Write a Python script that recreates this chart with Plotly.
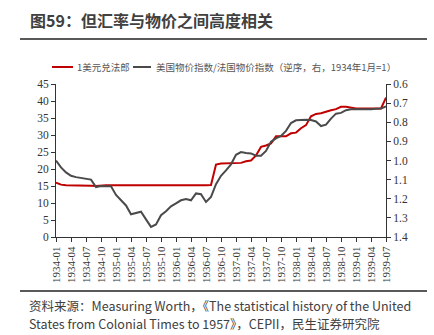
import plotly.graph_objects as go

months = [f"{1934 + i // 12}-{i % 12 + 1:02d}" for i in range(67)]

fx_usd_frf = [16.0, 15.4, 15.2, 15.2, 15.2, 15.3, 15.2, 15.1, 15.0, 15.2,
              15.2, 15.2, 15.2, 15.2, 15.1, 15.1, 15.2, 15.2, 15.2, 15.2,
              15.2, 15.2, 15.2, 15.1, 15.0, 15.1, 15.2, 15.2, 15.2, 15.2,
              15.2, 15.3, 21.3, 21.6, 21.7, 21.7, 21.7, 21.8, 22.3, 22.5,
              24.0, 26.5, 26.9, 27.5, 29.6, 29.6, 29.6, 30.5, 30.7, 32.0,
              32.9, 35.5, 36.2, 36.4, 36.9, 37.3, 37.6, 38.3, 38.3, 38.0,
              37.8, 37.8, 37.8, 37.8, 37.8, 37.8, 41.0]

price_ratio = [1.000, 1.036, 1.062, 1.080, 1.087, 1.091, 1.094, 1.100, 1.139, 1.133,
               1.135, 1.135, 1.180, 1.208, 1.235, 1.281, 1.276, 1.268, 1.308, 1.347,
               1.334, 1.286, 1.265, 1.240, 1.224, 1.208, 1.201, 1.208, 1.172, 1.176,
               1.217, 1.190, 1.124, 1.080, 1.052, 1.020, 0.970, 0.956, 0.961, 0.963,
               0.975, 0.975, 0.950, 0.902, 0.884, 0.872, 0.845, 0.804, 0.790, 0.787,
               0.787, 0.788, 0.796, 0.820, 0.813, 0.781, 0.755, 0.751, 0.737, 0.732,
               0.732, 0.733, 0.735, 0.732, 0.730, 0.728, 0.717]

tick_labels = months[::3]

W, H = 434, 335
L, R, T, B = 56, 386, 84, 237

def px(x):
    return (x - L) / (R - L)

def py(y):
    return (B - y) / (B - T)

RED = "#C00000"
GRAY = "#4a4a4a"
SERIF = "Liberation Serif"
CJK = "Noto Sans CJK SC"

fig = go.Figure()
fig.add_trace(go.Scatter(x=months, y=fx_usd_frf, mode="lines", name="1美元兑法郎",
                         line=dict(color=RED, width=2), yaxis="y"))
fig.add_trace(go.Scatter(x=months, y=price_ratio, mode="lines",
                         name="美国物价指数/法国物价指数（逆序，右，1934年1月=1）",
                         line=dict(color=GRAY, width=2), yaxis="y2"))

axis_font = dict(family=SERIF, size=11.5, color="#333333")

fig.update_layout(
    width=W, height=H,
    margin=dict(l=L, r=W - R, t=T, b=H - B),
    paper_bgcolor="white", plot_bgcolor="white",
    showlegend=False,
    xaxis=dict(type="category", range=[0, 66], tickmode="array",
               tickvals=tick_labels, ticktext=tick_labels, tickangle=-90,
               ticks="outside", ticklen=4, tickcolor="#333", showline=True,
               linecolor="#333", linewidth=1, showgrid=False, zeroline=False,
               tickfont=dict(family=SERIF, size=11, color="#333333")),
    yaxis=dict(range=[0, 45], dtick=5, ticks="outside", ticklen=4,
               tickcolor="#333", showline=True, linecolor="#333", linewidth=1,
               showgrid=False, zeroline=False, tickfont=axis_font),
    yaxis2=dict(range=[1.4, 0.6], dtick=0.1, tickformat=".1f", overlaying="y",
                side="right", ticks="outside", ticklen=4, tickcolor="#333",
                showline=True, linecolor="#333", linewidth=1, showgrid=False,
                zeroline=False, tickfont=axis_font),
)

shapes = [
    dict(type="line", xref="paper", yref="paper", x0=px(20), x1=px(427),
         y0=py(39), y1=py(39), line=dict(color="#595959", width=2)),
    dict(type="line", xref="paper", yref="paper", x0=px(20), x1=px(427),
         y0=py(291), y1=py(291), line=dict(color="#595959", width=2)),
    dict(type="line", xref="paper", yref="paper", x0=px(52), x1=px(73),
         y0=py(67), y1=py(67), line=dict(color=RED, width=2)),
    dict(type="line", xref="paper", yref="paper", x0=px(133), x1=px(151),
         y0=py(67), y1=py(67), line=dict(color=GRAY, width=2)),
]
fig.update_layout(shapes=shapes)

ann = [
    dict(text="<b>图59：但汇率与物价之间高度相关</b>", x=px(28), y=py(20),
         font=dict(family=CJK, size=16, color="#404040")),
    dict(text="1美元兑法郎", x=px(75), y=py(67),
         font=dict(family=CJK, size=9.5, color="#555555")),
    dict(text="美国物价指数/法国物价指数（逆序，右，1934年1月=1）", x=px(154), y=py(67),
         font=dict(family=CJK, size=9.5, color="#555555")),
    dict(text="资料来源：Measuring Worth，《The statistical history of the United",
         x=px(27), y=py(305), font=dict(family=CJK, size=12.5, color="#404040")),
    dict(text="States from Colonial Times to 1957》，CEPII，民生证券研究院",
         x=px(27), y=py(323), font=dict(family=CJK, size=12.5, color="#404040")),
]
for a in ann:
    a.update(xref="paper", yref="paper", xanchor="left", yanchor="middle",
             showarrow=False)
fig.update_layout(annotations=ann)

fig.write_html("out.html")
